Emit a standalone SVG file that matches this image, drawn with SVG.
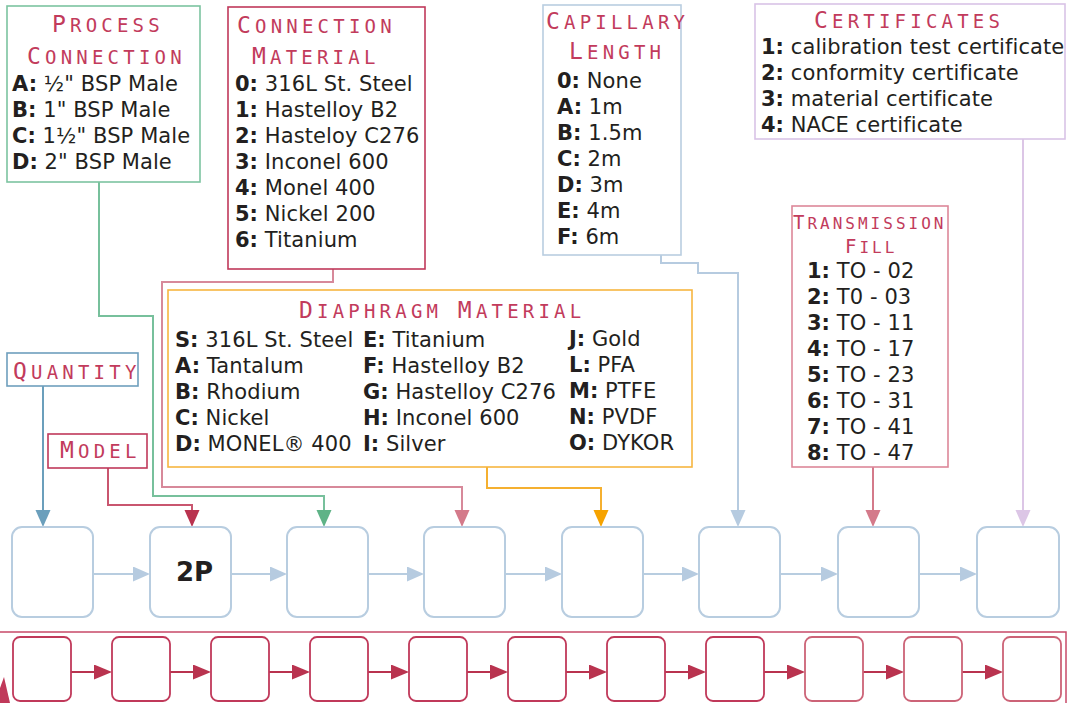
<svg xmlns="http://www.w3.org/2000/svg" width="1072" height="703" viewBox="0 0 1072 703">
<style>
.box{fill:#fff;stroke-width:1.6}
.hd{font-family:"DejaVu Sans Mono","Liberation Mono",monospace;fill:#c23b5c;letter-spacing:4.2px}
.hd .b{font-size:23px}
.hd .s{font-size:19px}
.hd2{font-family:"DejaVu Sans Mono","Liberation Mono",monospace;fill:#c23b5c;letter-spacing:3px}
.hd2 .b{font-size:19px}
.hd2 .s{font-size:16px}
.it{font-family:"DejaVu Sans",Verdana,sans-serif;font-size:21px;letter-spacing:0.1px;fill:#231f20}
.it .k{font-weight:bold;letter-spacing:0}
.node{fill:#fff;stroke:#b8cde0;stroke-width:2}
.sub{fill:#fff;stroke:#c0395a;stroke-width:1.8}
.sub.p{stroke:#cc6377}
.ln{fill:none;stroke-width:2}
</style>
<defs>
<marker id="aQ" markerUnits="userSpaceOnUse" markerWidth="17" markerHeight="16" refX="13" refY="7.5" orient="auto"><path d="M0,0L17,7.5L0,15z" fill="#6b9fbc"/></marker>
<marker id="aM" markerUnits="userSpaceOnUse" markerWidth="17" markerHeight="16" refX="13" refY="7.5" orient="auto"><path d="M0,0L17,7.5L0,15z" fill="#b9334f"/></marker>
<marker id="aG" markerUnits="userSpaceOnUse" markerWidth="17" markerHeight="16" refX="13" refY="7.5" orient="auto"><path d="M0,0L17,7.5L0,15z" fill="#5fb387"/></marker>
<marker id="aP" markerUnits="userSpaceOnUse" markerWidth="17" markerHeight="16" refX="13" refY="7.5" orient="auto"><path d="M0,0L17,7.5L0,15z" fill="#d47a8a"/></marker>
<marker id="aO" markerUnits="userSpaceOnUse" markerWidth="17" markerHeight="16" refX="13" refY="7.5" orient="auto"><path d="M0,0L17,7.5L0,15z" fill="#f6a300"/></marker>
<marker id="aB" markerUnits="userSpaceOnUse" markerWidth="17" markerHeight="16" refX="13" refY="7.5" orient="auto"><path d="M0,0L17,7.5L0,15z" fill="#b6cbe0"/></marker>
<marker id="aL" markerUnits="userSpaceOnUse" markerWidth="17" markerHeight="16" refX="13" refY="7.5" orient="auto"><path d="M0,0L17,7.5L0,15z" fill="#dcc6e6"/></marker>
<marker id="aR" markerUnits="userSpaceOnUse" markerWidth="18" markerHeight="16" refX="14" refY="7.5" orient="auto"><path d="M0,0L18,7.5L0,15z" fill="#b9334f"/></marker>
</defs>
<rect x="0" y="0" width="1072" height="703" fill="#fff"/>

<g id="connectors">
<path class="ln" stroke="#6b9fbc" d="M43,386V523" marker-end="url(#aQ)"/>
<path class="ln" stroke="#c9566f" d="M108,468V505H192V523" marker-end="url(#aM)"/>
<path class="ln" stroke="#77c09c" d="M99,182V316H153V496H324V523" marker-end="url(#aG)"/>
<path class="ln" stroke="#d7899a" d="M333,269V282H162V487H462V523" marker-end="url(#aP)"/>
<path class="ln" stroke="#f5b030" d="M487,467V488H601V523" marker-end="url(#aO)"/>
<path class="ln" stroke="#b6cbe0" d="M661,255V263H698V273H738V523" marker-end="url(#aB)"/>
<path class="ln" stroke="#d47a8a" d="M873,467V523" marker-end="url(#aP)"/>
<path class="ln" stroke="#dcc6e6" d="M1023,139V523" marker-end="url(#aL)"/>
<g class="ln" stroke="#b8cde0">
<path d="M93,574H146" marker-end="url(#aB)"/>
<path d="M231,574H283" marker-end="url(#aB)"/>
<path d="M368,574H420" marker-end="url(#aB)"/>
<path d="M505,574H558" marker-end="url(#aB)"/>
<path d="M643,574H695" marker-end="url(#aB)"/>
<path d="M780,574H834" marker-end="url(#aB)"/>
<path d="M919,574H973" marker-end="url(#aB)"/>
</g>
<g class="ln" stroke="#b9334f" stroke-width="2.4">
<path d="M71,672H108" marker-end="url(#aR)"/>
<path d="M170,672H207" marker-end="url(#aR)"/>
<path d="M269,672H306" marker-end="url(#aR)"/>
<path d="M368,672H405" marker-end="url(#aR)"/>
<path d="M467,672H504" marker-end="url(#aR)"/>
<path d="M566,672H603" marker-end="url(#aR)"/>
<path d="M665,672H702" marker-end="url(#aR)"/>
<path d="M764,672H801" marker-end="url(#aR)"/>
<path d="M863,672H900" marker-end="url(#aR)"/>
<path d="M962,672H999" marker-end="url(#aR)"/>
</g>
</g>

<g id="process-connection">
<rect class="box" x="7" y="6" width="193" height="176" stroke="#7cc4a0"/>
<text class="hd" x="52" y="32"><tspan class="b">P</tspan><tspan class="s">ROCESS</tspan></text>
<text class="hd" x="27" y="64"><tspan class="b">C</tspan><tspan class="s">ONNECTION</tspan></text>
<text class="it" x="12" y="91"><tspan class="k">A:</tspan> ½" BSP Male</text>
<text class="it" x="12" y="117"><tspan class="k">B:</tspan> 1" BSP Male</text>
<text class="it" x="12" y="143"><tspan class="k">C:</tspan> 1½" BSP Male</text>
<text class="it" x="12" y="168.5"><tspan class="k">D:</tspan> 2" BSP Male</text>
</g>

<g id="connection-material">
<rect class="box" x="228" y="7" width="197" height="262" stroke="#c0395a"/>
<text class="hd" x="237" y="33"><tspan class="b">C</tspan><tspan class="s">ONNECTION</tspan></text>
<text class="hd" x="252" y="64"><tspan class="b">M</tspan><tspan class="s">ATERIAL</tspan></text>
<text class="it" x="235" y="91"><tspan class="k">0:</tspan> 316L St. Steel</text>
<text class="it" x="235" y="117"><tspan class="k">1:</tspan> Hastelloy B2</text>
<text class="it" x="235" y="143"><tspan class="k">2:</tspan> Hasteloy C276</text>
<text class="it" x="235" y="168.5"><tspan class="k">3:</tspan> Inconel 600</text>
<text class="it" x="235" y="194.5"><tspan class="k">4:</tspan> Monel 400</text>
<text class="it" x="235" y="220.5"><tspan class="k">5:</tspan> Nickel 200</text>
<text class="it" x="235" y="246.5"><tspan class="k">6:</tspan> Titanium</text>
</g>

<g id="capillary-length">
<rect class="box" x="543" y="5" width="138" height="250" stroke="#b9cee0"/>
<text class="hd" x="546" y="29" letter-spacing="3.9"><tspan class="b">C</tspan><tspan class="s">APILLARY</tspan></text>
<text class="hd" x="569" y="59"><tspan class="b">L</tspan><tspan class="s">ENGTH</tspan></text>
<text class="it" x="557" y="88"><tspan class="k">0:</tspan> None</text>
<text class="it" x="557" y="114"><tspan class="k">A:</tspan> 1m</text>
<text class="it" x="557" y="140"><tspan class="k">B:</tspan> 1.5m</text>
<text class="it" x="557" y="166"><tspan class="k">C:</tspan> 2m</text>
<text class="it" x="557" y="192"><tspan class="k">D:</tspan> 3m</text>
<text class="it" x="557" y="218"><tspan class="k">E:</tspan> 4m</text>
<text class="it" x="557" y="244"><tspan class="k">F:</tspan> 6m</text>
</g>

<g id="certificates">
<rect class="box" x="755" y="4" width="310" height="135" stroke="#d9c3e6"/>
<text class="hd" x="814" y="28"><tspan class="b">C</tspan><tspan class="s">ERTIFICATES</tspan></text>
<text class="it" x="761" y="54" letter-spacing="0"><tspan class="k">1:</tspan> calibration test certificate</text>
<text class="it" x="761" y="80" letter-spacing="0"><tspan class="k">2:</tspan> conformity certificate</text>
<text class="it" x="761" y="106" letter-spacing="0"><tspan class="k">3:</tspan> material certificate</text>
<text class="it" x="761" y="132" letter-spacing="0"><tspan class="k">4:</tspan> NACE certificate</text>
</g>

<g id="diaphragm-material">
<rect class="box" x="168" y="290" width="524" height="177" stroke="#f7b640"/>
<text class="hd" x="299" y="318"><tspan class="b">D</tspan><tspan class="s">IAPHRAGM </tspan><tspan class="b">M</tspan><tspan class="s">ATERIAL</tspan></text>
<text class="it" x="175" y="346.5"><tspan class="k">S:</tspan> 316L St. Steel</text>
<text class="it" x="175" y="372.5"><tspan class="k">A:</tspan> Tantalum</text>
<text class="it" x="175" y="398.5"><tspan class="k">B:</tspan> Rhodium</text>
<text class="it" x="175" y="424.5"><tspan class="k">C:</tspan> Nickel</text>
<text class="it" x="175" y="450.5"><tspan class="k">D:</tspan> MONEL® 400</text>
<text class="it" x="363" y="346.5"><tspan class="k">E:</tspan> Titanium</text>
<text class="it" x="363" y="372.5"><tspan class="k">F:</tspan> Hastelloy B2</text>
<text class="it" x="363" y="398.5"><tspan class="k">G:</tspan> Hastelloy C276</text>
<text class="it" x="363" y="424.5"><tspan class="k">H:</tspan> Inconel 600</text>
<text class="it" x="363" y="450.5"><tspan class="k">I:</tspan> Silver</text>
<text class="it" x="569" y="345.5"><tspan class="k">J:</tspan> Gold</text>
<text class="it" x="569" y="372"><tspan class="k">L:</tspan> PFA</text>
<text class="it" x="569" y="398"><tspan class="k">M:</tspan> PTFE</text>
<text class="it" x="569" y="424"><tspan class="k">N:</tspan> PVDF</text>
<text class="it" x="569" y="450"><tspan class="k">O:</tspan> DYKOR</text>
</g>

<g id="transmission-fill">
<rect class="box" x="792" y="206" width="156" height="261" stroke="#dd8899"/>
<text class="hd2" x="793" y="229"><tspan class="b">T</tspan><tspan class="s">RANSMISSION</tspan></text>
<text class="hd2" x="845" y="253"><tspan class="b">F</tspan><tspan class="s">ILL</tspan></text>
<text class="it" x="807" y="278"><tspan class="k">1:</tspan> TO - 02</text>
<text class="it" x="807" y="304"><tspan class="k">2:</tspan> T0 - 03</text>
<text class="it" x="807" y="330"><tspan class="k">3:</tspan> TO - 11</text>
<text class="it" x="807" y="356"><tspan class="k">4:</tspan> TO - 17</text>
<text class="it" x="807" y="381.5"><tspan class="k">5:</tspan> TO - 23</text>
<text class="it" x="807" y="407.5"><tspan class="k">6:</tspan> TO - 31</text>
<text class="it" x="807" y="433.5"><tspan class="k">7:</tspan> TO - 41</text>
<text class="it" x="807" y="459.5"><tspan class="k">8:</tspan> TO - 47</text>
</g>

<g id="quantity">
<rect class="box" x="7" y="353" width="131" height="33" stroke="#6e9fbd"/>
<text class="hd" x="13" y="379"><tspan class="b">Q</tspan><tspan class="s">UANTITY</tspan></text>
</g>

<g id="model">
<rect class="box" x="48" y="434" width="99" height="34" stroke="#c0395a"/>
<text class="hd" x="60" y="458"><tspan class="b">M</tspan><tspan class="s">ODEL</tspan></text>
</g>

<g id="node-1"><rect class="node" x="12" y="527" width="81" height="90" rx="10"/></g>
<g id="node-2"><rect class="node" x="150" y="527" width="81" height="90" rx="10"/>
<text x="176" y="581" font-family="DejaVu Sans,Verdana,sans-serif" font-weight="bold" font-size="26" fill="#231f20">2P</text></g>
<g id="node-3"><rect class="node" x="287" y="527" width="81" height="90" rx="10"/></g>
<g id="node-4"><rect class="node" x="424" y="527" width="81" height="90" rx="10"/></g>
<g id="node-5"><rect class="node" x="562" y="527" width="81" height="90" rx="10"/></g>
<g id="node-6"><rect class="node" x="699" y="527" width="81" height="90" rx="10"/></g>
<g id="node-7"><rect class="node" x="838" y="527" width="81" height="90" rx="10"/></g>
<g id="node-8"><rect class="node" x="977" y="527" width="82" height="90" rx="10"/></g>

<g id="sub-frame">
<rect x="-10" y="632" width="1076" height="100" fill="none" stroke="#c84a68" stroke-width="1.5"/>
<polygon points="0,688 4,677 10,703 0,703" fill="#c0395a"/>
</g>
<g id="sub-nodes">
<rect class="sub" x="13" y="637" width="58" height="64" rx="7"/>
<rect class="sub" x="112" y="637" width="58" height="64" rx="7"/>
<rect class="sub" x="211" y="637" width="58" height="64" rx="7"/>
<rect class="sub" x="310" y="637" width="58" height="64" rx="7"/>
<rect class="sub" x="409" y="637" width="58" height="64" rx="7"/>
<rect class="sub" x="508" y="637" width="58" height="64" rx="7"/>
<rect class="sub" x="607" y="637" width="58" height="64" rx="7"/>
<rect class="sub" x="706" y="637" width="58" height="64" rx="7"/>
<rect class="sub p" x="805" y="637" width="58" height="64" rx="7"/>
<rect class="sub p" x="904" y="637" width="58" height="64" rx="7"/>
<rect class="sub p" x="1003" y="637" width="58" height="64" rx="7"/>
</g>
</svg>
